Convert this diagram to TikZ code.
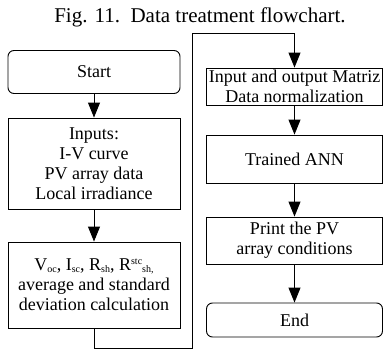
\documentclass[tikz,border=0pt]{standalone}
\usepackage{fontspec}
\setmainfont{Liberation Serif}
\usetikzlibrary{arrows.meta}

\newcommand{\tief}[1]{\raisebox{-0.25ex}{\fontsize{10}{10}\selectfont #1}}
\newcommand{\hoch}[1]{\raisebox{0.75ex}{\fontsize{10}{10}\selectfont #1}}

\tikzset{
  box/.style={draw, line width=0.9pt, align=center, inner sep=0pt,
    font=\fontsize{18}{20}\selectfont},
  startend/.style={box, rounded corners=6pt},
  flow/.style={line width=0.9pt, -{Triangle[length=15pt,width=12pt]}},
}

\begin{document}
\begin{tikzpicture}[x=1pt,y=-1pt]
  % Rahmen
  \useasboundingbox (0,0) rectangle (383,351);

  % Titel
  \node[font=\fontsize{21}{23}\selectfont] (titel) at (200,17) {Fig. 11.\ \ Data treatment flowchart.};

  % Linke Spalte
  \node[startend, minimum width=172pt, minimum height=43pt] (start) at (94,72) {Start};
  \node[box, minimum width=172pt, minimum height=91pt] (inputs) at (94,163.5)
    {Inputs:\\I-V curve\\PV array data\\Local irradiance};
  \node[box, minimum width=172pt, minimum height=86pt] (calc) at (94,285)
    {V\tief{oc}, I\tief{sc}, R\tief{sh}, R\hoch{stc}\tief{sh,}\\
     average and standard\\deviation calculation};

  % Rechte Spalte
  \node[box, minimum width=176pt, minimum height=37pt] (norm) at (294.5,86.5)
    {Input and output Matriz\\Data normalization};
  \node[box, minimum width=176pt, minimum height=48pt] (ann) at (294.5,159) {Trained ANN};
  \node[box, minimum width=176pt, minimum height=47pt] (print) at (294.5,240.5)
    {Print the PV\\array conditions};
  \node[startend, minimum width=176pt, minimum height=34pt] (ende) at (294.5,320) {End};

  % Verbindungen
  \draw[flow] (start) -- (inputs);
  \draw[flow] (inputs) -- (calc);
  \coordinate (u1) at (94,348);
  \coordinate (u2) at (192,348);
  \coordinate (u3) at (192,33);
  \coordinate (u4) at (294.5,33);
  \draw[flow] (calc.south) -- (u1) -- (u2) -- (u3) -- (u4) -- (norm.north);
  \draw[flow] (norm) -- (ann);
  \draw[flow] (ann) -- (print);
  \draw[flow] (print) -- (ende);

\end{tikzpicture}
\end{document}
